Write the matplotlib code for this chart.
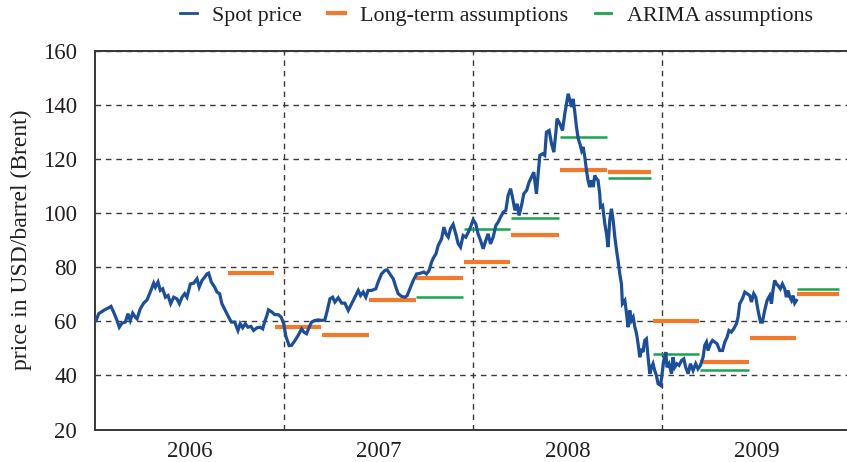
import matplotlib
matplotlib.use('Agg')
import matplotlib.pyplot as plt
from matplotlib.lines import Line2D

# ---------------- data ----------------
spot_t = [
    2006.004, 2006.018, 2006.044, 2006.071, 2006.083, 2006.097, 2006.115, 2006.127, 2006.141, 2006.159,
    2006.173, 2006.185, 2006.198, 2006.212, 2006.221, 2006.238, 2006.256, 2006.274, 2006.291, 2006.309,
    2006.318, 2006.332, 2006.344, 2006.357, 2006.371, 2006.385, 2006.399, 2006.415, 2006.432, 2006.445,
    2006.459, 2006.473, 2006.485, 2006.503, 2006.521, 2006.538, 2006.550, 2006.565, 2006.579, 2006.591,
    2006.600, 2006.614, 2006.632, 2006.644, 2006.658, 2006.670, 2006.688, 2006.706, 2006.720, 2006.738,
    2006.755, 2006.767, 2006.780, 2006.794, 2006.808, 2006.824, 2006.838, 2006.856, 2006.873, 2006.886,
    2006.896, 2006.908, 2006.917, 2006.935, 2006.949, 2006.970, 2006.984, 2006.997, 2007.009, 2007.026,
    2007.039, 2007.057, 2007.074, 2007.092, 2007.104, 2007.118, 2007.132, 2007.145, 2007.162, 2007.180,
    2007.198, 2007.215, 2007.228, 2007.242, 2007.256, 2007.268, 2007.286, 2007.304, 2007.321, 2007.339,
    2007.357, 2007.374, 2007.392, 2007.404, 2007.418, 2007.432, 2007.444, 2007.462, 2007.485, 2007.497,
    2007.515, 2007.533, 2007.545, 2007.559, 2007.577, 2007.591, 2007.603, 2007.621, 2007.639, 2007.651,
    2007.665, 2007.683, 2007.701, 2007.718, 2007.739, 2007.753, 2007.767, 2007.780, 2007.792, 2007.803,
    2007.815, 2007.833, 2007.845, 2007.856, 2007.868, 2007.880, 2007.894, 2007.908, 2007.921, 2007.933,
    2007.947, 2007.961, 2007.974, 2007.986, 2008.000, 2008.014, 2008.026, 2008.039, 2008.053, 2008.067,
    2008.079, 2008.092, 2008.106, 2008.120, 2008.132, 2008.145, 2008.159, 2008.173, 2008.185, 2008.198,
    2008.208, 2008.221, 2008.233, 2008.243, 2008.256, 2008.268, 2008.283, 2008.296, 2008.309, 2008.321,
    2008.335, 2008.344, 2008.353, 2008.367, 2008.379, 2008.388, 2008.402, 2008.415, 2008.427, 2008.438,
    2008.444, 2008.459, 2008.473, 2008.485, 2008.494, 2008.503, 2008.512, 2008.521, 2008.529, 2008.538,
    2008.547, 2008.556, 2008.565, 2008.574, 2008.582, 2008.591, 2008.600, 2008.608, 2008.617, 2008.626,
    2008.635, 2008.644, 2008.653, 2008.661, 2008.670, 2008.674, 2008.685, 2008.697, 2008.706, 2008.714,
    2008.723, 2008.732, 2008.741, 2008.750, 2008.759, 2008.767, 2008.776, 2008.785, 2008.790, 2008.803,
    2008.812, 2008.820, 2008.829, 2008.838, 2008.847, 2008.856, 2008.865, 2008.873, 2008.882, 2008.891,
    2008.899, 2008.908, 2008.917, 2008.926, 2008.935, 2008.944, 2008.952, 2008.961, 2008.970, 2008.979,
    2008.992, 2009.002, 2009.009, 2009.020, 2009.026, 2009.037, 2009.050, 2009.058, 2009.067, 2009.079,
    2009.090, 2009.103, 2009.115, 2009.125, 2009.138, 2009.150, 2009.164, 2009.178, 2009.190, 2009.203,
    2009.217, 2009.226, 2009.235, 2009.243, 2009.256, 2009.267, 2009.279, 2009.291, 2009.305, 2009.320,
    2009.332, 2009.344, 2009.354, 2009.367, 2009.379, 2009.394, 2009.402, 2009.411, 2009.425, 2009.438,
    2009.450, 2009.464, 2009.473, 2009.485, 2009.496, 2009.508, 2009.521, 2009.531, 2009.543, 2009.556,
    2009.570, 2009.579, 2009.587, 2009.596, 2009.605, 2009.614, 2009.626, 2009.637, 2009.649, 2009.658,
    2009.667, 2009.676, 2009.685, 2009.693, 2009.702, 2009.711,
]
spot_price = [
    60.3, 62.8, 64.0, 65.0, 65.5, 63.4, 60.3, 57.8, 59.3, 59.7,
    62.8, 60.3, 63.0, 61.5, 60.9, 64.6, 66.7, 67.9, 70.8, 74.1,
    72.6, 74.5, 71.4, 72.0, 68.9, 69.5, 66.5, 68.9, 68.3, 66.5,
    68.9, 70.2, 68.9, 73.8, 74.1, 75.7, 72.6, 75.1, 76.3, 77.5,
    77.8, 74.5, 72.6, 70.8, 70.2, 66.5, 64.0, 61.5, 59.7, 59.7,
    56.6, 59.1, 57.6, 59.1, 57.8, 58.1, 56.6, 57.6, 57.8, 57.2,
    59.7, 62.1, 64.2, 63.4, 62.5, 62.4, 61.5, 59.1, 54.4, 51.0,
    51.1, 52.9, 54.8, 57.2, 56.0, 55.4, 57.8, 59.7, 60.3, 60.5,
    60.3, 60.5, 64.0, 68.3, 68.9, 67.1, 68.7, 66.7, 66.7, 64.0,
    66.5, 68.9, 71.4, 69.5, 70.8, 68.9, 71.4, 71.4, 72.0, 74.5,
    77.5, 78.8, 79.0, 77.5, 75.7, 72.6, 70.2, 69.2, 68.9, 69.5,
    72.0, 75.1, 77.5, 77.7, 78.2, 77.5, 78.8, 81.9, 83.7, 84.9,
    88.0, 90.5, 94.8, 92.3, 91.1, 94.2, 95.8, 92.3, 88.6, 87.4,
    91.7, 91.1, 92.9, 94.8, 97.5, 96.0, 92.3, 89.9, 86.8, 89.9,
    92.3, 88.6, 91.1, 95.4, 96.6, 98.5, 100.3, 101.0, 106.5, 109.0,
    105.9, 101.0, 103.4, 99.1, 102.8, 107.1, 108.4, 111.4, 113.3, 115.1,
    107.1, 114.5, 121.3, 121.9, 121.3, 129.9, 130.5, 125.6, 122.5, 129.9,
    134.9, 133.0, 130.5, 136.7, 140.4, 144.1, 141.6, 139.2, 142.2, 137.3,
    131.8, 127.5, 125.6, 123.1, 124.4, 120.7, 115.7, 112.1, 109.6, 112.1,
    109.6, 113.9, 112.7, 112.1, 107.1, 102.2, 102.8, 96.0, 92.3, 87.4,
    97.3, 101.6, 97.3, 91.1, 86.2, 82.5, 77.5, 73.8, 66.5, 67.7,
    62.8, 57.8, 64.0, 60.3, 61.5, 57.8, 55.4, 51.7, 46.7, 49.8,
    48.6, 52.9, 53.5, 46.7, 40.6, 43.0, 44.3, 41.8, 40.0, 36.9,
    36.3, 41.8, 45.5, 48.6, 43.0, 44.3, 40.6, 46.7, 43.0, 44.3,
    43.7, 45.5, 46.1, 43.0, 40.6, 44.3, 41.8, 44.3, 42.4, 43.7,
    46.7, 51.1, 52.3, 49.2, 51.7, 52.9, 52.3, 51.7, 49.2, 49.2,
    52.3, 54.1, 56.6, 56.0, 57.2, 59.1, 61.5, 66.5, 68.3, 70.8,
    70.2, 69.5, 67.1, 70.2, 68.9, 64.0, 59.7, 59.7, 64.0, 67.7,
    69.5, 66.5, 71.4, 75.1, 73.8, 73.2, 72.0, 73.8, 72.0, 68.9,
    71.4, 68.9, 67.7, 69.5, 66.7, 67.7,
]

# Long-term assumptions (periods and values)
lt_start = [2006.70, 2006.95, 2007.20, 2007.45, 2007.70, 2007.95, 2008.20,
            2008.46, 2008.715, 2008.95, 2009.20, 2009.465, 2009.715]
lt_end = [2006.948, 2007.196, 2007.447, 2007.698, 2007.945, 2008.195, 2008.457,
          2008.711, 2008.944, 2009.194, 2009.460, 2009.711, 2009.937]
lt_value = [78, 58, 55, 68, 76, 82, 92, 116, 115, 60, 45, 54, 70]

# ARIMA assumptions
ar_start = [2007.70, 2007.95, 2008.20, 2008.46, 2008.715, 2008.95, 2009.20, 2009.715]
ar_end = [2007.945, 2008.195, 2008.457, 2008.711, 2008.944, 2009.194, 2009.460, 2009.937]
ar_value = [69, 94, 98, 128, 113, 48, 42, 72]

years = [2006, 2007, 2008, 2009]
year_labels = ['2006', '2007', '2008', '2009']
y_ticks = [20, 40, 60, 80, 100, 120, 140, 160]

series_names = ['Spot price', 'Long-term assumptions', 'ARIMA assumptions']
c_blue = '#1b4f9c'
c_orange = '#f37a2b'
c_green = '#18a54c'

# ---------------- plot ----------------
plt.rcParams['font.family'] = ['Liberation Serif', 'DejaVu Serif']
fig = plt.figure(figsize=(8.47, 4.62), dpi=100)
ax = fig.add_axes([95.3 / 847, 1 - 429.5 / 462, (851 - 95.3) / 847, (429.5 - 50.7) / 462])

ax.hlines(lt_value, lt_start, lt_end, colors=c_orange, linewidth=3.0, zorder=3)
ax.hlines(ar_value, ar_start, ar_end, colors=c_green, linewidth=1.8, zorder=3)
ax.plot(spot_t, spot_price, color=c_blue, linewidth=2.3, zorder=4, solid_joinstyle='miter')

ax.set_xlim(2006, 2010)
ax.set_ylim(20, 160)

ax.set_yticks(y_ticks)
ax.set_xticks(years[1:])
ax.set_xticklabels([])
ax.set_xticks([y + 0.5 for y in years], minor=True)
ax.set_xticklabels(year_labels, minor=True)
ax.tick_params(axis='x', which='both', length=0, pad=8, labelsize=16.5, colors='#231f20')
ax.tick_params(axis='y', length=0, pad=13, labelsize=16.5, colors='#231f20')

ax.grid(True, which='major', color='#3a3a3a', linestyle=(0, (4, 3.5)), linewidth=1.0, zorder=1)

for s in ['left', 'top', 'bottom']:
    ax.spines[s].set_color('#3a3536')
    ax.spines[s].set_linewidth(1.4)
ax.spines['right'].set_visible(False)

ax.set_ylabel('price in USD/barrel (Brent)', fontsize=17, color='#231f20', labelpad=8)

handles = [Line2D([], [], color=c_blue, linewidth=2.0),
           Line2D([], [], color=c_orange, linewidth=3.0),
           Line2D([], [], color=c_green, linewidth=2.0)]
fig.legend(handles, series_names, loc='center', bbox_to_anchor=(496.5 / 847, 1 - 16 / 462),
           ncol=3, frameon=False, fontsize=15.8, handlelength=0.75, handletextpad=0.7,
           columnspacing=1.2, labelcolor='#231f20')

fig.savefig('out.png', dpi=100)
